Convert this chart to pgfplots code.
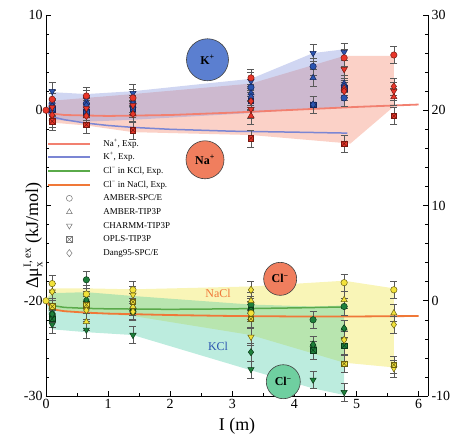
\documentclass[border=0pt]{standalone}
\usepackage{fontspec}
\setmainfont{Liberation Serif}
\usepackage{pgfplots}
\usepackage{pgfplotstable}
\pgfplotsset{compat=1.18}

\definecolor{naband}{HTML}{F4876C}
\definecolor{kband}{HTML}{8493DC}
\definecolor{naline}{HTML}{F28070}
\definecolor{kline}{HTML}{7B86D4}
\definecolor{clkline}{HTML}{5AAA4A}
\definecolor{clnaline}{HTML}{F07838}
\definecolor{yband}{HTML}{F2E860}
\definecolor{tband}{HTML}{40C8A0}
\definecolor{nafill}{HTML}{E8362A}
\definecolor{nadraw}{HTML}{7A1810}
\definecolor{kfill}{HTML}{2B55B0}
\definecolor{kdraw}{HTML}{14245A}
\definecolor{yfill}{HTML}{F2E23A}
\definecolor{ydraw}{HTML}{6A6010}
\definecolor{gfill}{HTML}{1E7F3A}
\definecolor{gdraw}{HTML}{0A3A18}
\definecolor{kcirc}{HTML}{5B7FD0}
\definecolor{nacirc}{HTML}{F07E5E}
\definecolor{tcirc}{HTML}{6FCFA0}

\pgfdeclareplotmark{boxx}{%
  \pgfpathrectangle{\pgfpoint{-0.85\pgfplotmarksize}{-0.85\pgfplotmarksize}}{\pgfpoint{1.7\pgfplotmarksize}{1.7\pgfplotmarksize}}%
  \pgfusepathqfillstroke
  \pgfpathmoveto{\pgfpoint{-0.85\pgfplotmarksize}{-0.85\pgfplotmarksize}}%
  \pgfpathlineto{\pgfpoint{0.85\pgfplotmarksize}{0.85\pgfplotmarksize}}%
  \pgfpathmoveto{\pgfpoint{-0.85\pgfplotmarksize}{0.85\pgfplotmarksize}}%
  \pgfpathlineto{\pgfpoint{0.85\pgfplotmarksize}{-0.85\pgfplotmarksize}}%
  \pgfusepathqstroke
}

\pgfplotsset{
  ionpt/.style 2 args={only marks, forget plot, mark size=3.2bp,
    mark options={fill=#1, draw=#2, line width=0.5bp, solid},
    error bars/.cd, y dir=both, y fixed=0.9,
    error bar style={line width=0.5bp, draw=black!65},
    error mark options={rotate=90, mark size=3.5bp, line width=0.5bp, draw=black!65, fill=none},
    /pgfplots/.cd},
}

% cations (left axis, kJ/mol)
\pgfplotstableread{
x     c     tu     td    sx     d
0.1   1.15  -0.85  0.3   -1.15  -0.5
0.65  1.5   -0.6   0.2   -1.5   -0.6
1.4   1.3   -0.4   0.5   -2.1   -0.4
3.3   3.4   -0.6   0.1   -2.95  0.95
4.8   5.5   2.3    4.3   -3.5   2.0
5.6   5.8   1.4    2.0   -0.6   2.5
}\tabNa
\pgfplotstableread{
x     c     tu     td    sx     d
0.1   0.4   0.9    2.0   0.1    0.4
0.65  0.7   0.4    1.2   -0.2   0.5
1.4   0.7   0.5    1.8   0.2    0.7
3.3   2.4   1.8    3.05  1.0    1.4
4.3   4.6   3.4    6.0   0.6    0.6
4.8   1.3   2.8    6.1   2.3    2.5
}\tabK
% anions (right axis, kJ/mol)
\pgfplotstableread{
x     c     tu     td    sx     d
0.1   1.8   -0.6   0.95  -0.6   0.95
0.65  0.7   -2.2   -1.0  -0.4   -1.0
1.4   1.15  -0.6   0.6   -0.1   -1.15
3.3   -1.3  0.0    -3.8  -1.9   1.15
4.8   1.9   0.1    -4.1  -6.6   -4.1
5.6   1.15  -1.3   -7.1  -6.7   -2.5
}\tabClNa
\pgfplotstableread{
x     c     tu     td    sx     d
0.1   -1.4  -1.9   -2.5  -1.9   -1.4
0.65  2.2   0.1    -3.05 -0.4   0.1
1.4   -1.15 -0.6   -3.6  -1.0   -1.15
3.3   -0.4  -1.0   -7.2  -1.0   -5.4
4.3   -2.0  -4.6   -8.3  -5.2   -4.6
4.8   -0.6  -2.9   -9.6  -4.7   -2.9
}\tabClK

\newcommand{\ionset}[3]{%
  \addplot[ionpt={#2}{#3}, mark=*] table[x=x,y=c]{#1};
  \addplot[ionpt={#2}{#3}, mark=triangle*, mark size=3.6bp] table[x=x,y=tu]{#1};
  \addplot[ionpt={#2}{#3}, mark=triangle*, mark size=3.6bp, every mark/.append style={rotate=180}] table[x=x,y=td]{#1};
  \addplot[ionpt={#2}{#3}, mark=boxx] table[x=x,y=sx]{#1};
  \addplot[ionpt={#2}{#3}, mark=diamond*, mark size=3.6bp] table[x=x,y=d]{#1};
}

\begin{document}
\begin{tikzpicture}
\begin{axis}[name=main,
  width=382bp, height=381bp, scale only axis,
  xmin=0, xmax=6.15, ymin=-30, ymax=10,
  axis x line*=bottom, axis y line*=left,
  axis line style={line width=0.6bp},
  tick align=inside, tick style={line width=0.5bp, black},
  major tick length=5bp, minor tick length=3bp,
  xtick={0,1,2,3,4,5,6}, minor x tick num=1,
  ytick={-30,-20,-10,0,10}, yticklabels={-30,-20,,0,10}, minor y tick num=4,
  ticklabel style={font=\fontsize{14}{14}\selectfont},
  /pgf/number format/assume math mode=true,
  xlabel={I (m)},
  ylabel={$\mbox{Δμ}^{\mbox{\fontsize{11}{11}\selectfont I, ex}}_{\mbox{\fontsize{11}{11}\selectfont x}}$ (kJ/mol)},
  label style={font=\fontsize{18}{18}\selectfont},
  ylabel style={at={(axis description cs:0,0.5)}, anchor=south, xshift=-30bp},
  xlabel style={at={(axis description cs:0.5,0)}, anchor=north, yshift=-19bp},
  clip=false,
  legend cell align=left,
  legend style={draw=none, fill=none, at={(axis description cs:0.003,0.675)}, anchor=north west,
    font=\fontsize{9}{10}\selectfont, inner sep=0pt,
    nodes={inner sep=0pt, text height=7bp, text depth=2bp}, row sep=4.7bp, column sep=12bp},
  legend image code/.code={\draw[mark repeat=2,mark phase=2,#1] plot coordinates {(0bp,0bp) (21bp,0bp) (42bp,0bp)};},
]
% bands
\addplot[draw=none, fill=naband, fill opacity=0.38, forget plot] coordinates {
 (0,0) (0.1,1.0) (0.65,1.3) (1.4,1.7) (3.3,2.8) (4.8,5.7) (5.6,5.7)
 (5.6,0.4) (4.9,-3.5) (3.3,-2.6) (1.4,-2.3) (0.65,-1.6) (0.1,-1.3)} -- cycle;
\addplot[draw=none, fill=kband, fill opacity=0.38, forget plot] coordinates {
 (0,0) (0.1,1.9) (0.65,1.7) (1.4,2.0) (3.3,3.3) (4.3,6.0) (4.8,6.4)
 (4.8,0.3) (4.3,0.2) (3.3,-0.3) (1.4,-1.0) (0.65,-1.2) (0.1,-1.0)} -- cycle;
% experimental lines
\addplot[naline, line width=1.8bp, forget plot] coordinates {
 (0,0) (0.1,-0.35) (0.3,-0.5) (0.65,-0.55) (1,-0.6) (2,-0.5) (3,-0.25) (4,0.05) (5,0.35) (6,0.6)};
\addplot[kline, line width=1.5bp, forget plot] coordinates {
 (0,0) (0.1,-0.7) (0.3,-1.0) (0.65,-1.35) (1,-1.6) (1.4,-1.8) (2,-2.0) (3,-2.2) (4,-2.3) (4.85,-2.4)};
% simulation points
\ionset{\tabK}{kfill}{kdraw}
\ionset{\tabNa}{nafill}{nadraw}
\addplot[only marks, mark=*, mark size=3.2bp, mark options={fill=nafill, draw=nadraw, line width=0.5bp}, forget plot] coordinates {(0,0)};
% legend
\addlegendimage{naline, line width=2bp}
\addlegendentry{Na\textsuperscript{+}, Exp.}
\addlegendimage{kline, line width=1.8bp}
\addlegendentry{K\textsuperscript{+}, Exp.}
\addlegendimage{clkline, line width=1.8bp}
\addlegendentry{Cl\textsuperscript{−} in KCl, Exp.}
\addlegendimage{clnaline, line width=1.8bp}
\addlegendentry{Cl\textsuperscript{−} in NaCl, Exp.}
\addlegendimage{only marks, mark=o, mark size=3bp, mark options={draw=black!55, fill=white, line width=0.5bp}}
\addlegendentry{AMBER-SPC/E}
\addlegendimage{only marks, mark=triangle, mark size=3.3bp, mark options={draw=black!55, fill=white, line width=0.5bp}}
\addlegendentry{AMBER-TIP3P}
\addlegendimage{only marks, mark=triangle, mark size=3.3bp, mark options={draw=black!55, fill=white, line width=0.5bp, rotate=180}}
\addlegendentry{CHARMM-TIP3P}
\addlegendimage{only marks, mark=boxx, mark size=3.3bp, mark options={draw=black!55, fill=white, line width=0.5bp}}
\addlegendentry{OPLS-TIP3P}
\addlegendimage{only marks, mark=diamond, mark size=3.6bp, mark options={draw=black!55, fill=white, line width=0.5bp}}
\addlegendentry{Dang95-SPC/E}
% ion labels
\node[circle, draw=black!75, line width=0.6bp, fill=kcirc, minimum size=42bp, inner sep=0pt, font=\fontsize{12}{12}\selectfont\bfseries] at (axis cs:2.6,5.3) {K\textsuperscript{+}};
\node[circle, draw=black!75, line width=0.6bp, fill=nacirc, minimum size=38bp, inner sep=0pt, font=\fontsize{12}{12}\selectfont\bfseries] at (axis cs:2.56,-5.2) {Na\textsuperscript{+}};
\end{axis}
\begin{axis}[
  width=382bp, height=381bp, scale only axis,
  xmin=0, xmax=6.15, ymin=-10, ymax=30,
  axis x line=none, axis y line*=right,
  axis line style={line width=0.6bp},
  tick align=inside, tick style={line width=0.5bp, black},
  major tick length=5bp, minor tick length=3bp,
  ytick={-10,0,10,20,30}, minor y tick num=4,
  ticklabel style={font=\fontsize{14}{14}\selectfont},
  /pgf/number format/assume math mode=true,
  clip=false,
]
\addplot[draw=none, fill=yband, fill opacity=0.45] coordinates {
 (0,0) (0.1,1.3) (0.65,1.3) (1.4,1.2) (3.3,1.5) (4.8,2.1) (5.6,1.3)
 (5.6,-7.0) (4.8,-6.5) (3.3,-3.6) (1.4,-1.6) (0.65,-1.3) (0.1,-1.0)} -- cycle;
\addplot[draw=none, fill=tband, fill opacity=0.35] coordinates {
 (0,0) (0.1,0.8) (0.65,0.9) (1.4,0.5) (3.3,-0.4) (4.3,-0.6) (4.8,-0.5)
 (4.8,-9.9) (4.3,-9.2) (3.3,-7.3) (1.4,-3.6) (0.65,-3.3) (0.1,-3.0)} -- cycle;
\addplot[clkline, line width=1.5bp] coordinates {
 (0,0) (0.1,-0.5) (0.3,-0.7) (0.65,-0.8) (1,-0.85) (2,-0.9) (3,-0.85) (4,-0.75) (4.8,-0.65)};
\addplot[clnaline, line width=1.8bp] coordinates {
 (0,0) (0.1,-0.9) (0.3,-1.1) (0.65,-1.25) (1,-1.35) (2,-1.5) (3,-1.6) (4,-1.65) (5,-1.65) (6,-1.6)};
\ionset{\tabClK}{gfill}{gdraw}
\ionset{\tabClNa}{yfill}{ydraw}
\addplot[only marks, mark=*, mark size=3.2bp, mark options={fill=yfill, draw=ydraw, line width=0.5bp}] coordinates {(0,0)};
\node[font=\fontsize{12}{12}\selectfont, text=clnaline] at (axis cs:2.77,0.75) {NaCl};
\node[font=\fontsize{12}{12}\selectfont, text=kfill] at (axis cs:2.77,-4.8) {KCl};
\node[circle, draw=black!75, line width=0.6bp, fill=nacirc, minimum size=33bp, inner sep=0pt, font=\fontsize{12}{12}\selectfont\bfseries] at (axis cs:3.77,2.3) {Cl\textsuperscript{−}};
\node[circle, draw=black!75, line width=0.6bp, fill=tcirc, minimum size=34bp, inner sep=0pt, font=\fontsize{12}{12}\selectfont\bfseries] at (axis cs:3.82,-8.5) {Cl\textsuperscript{−}};
\end{axis}
\pgfresetboundingbox
\path[use as bounding box] ([shift={(-46bp,-40bp)}]main.south west) rectangle ([shift={(30bp,15bp)}]main.north east);
\end{tikzpicture}
\end{document}
